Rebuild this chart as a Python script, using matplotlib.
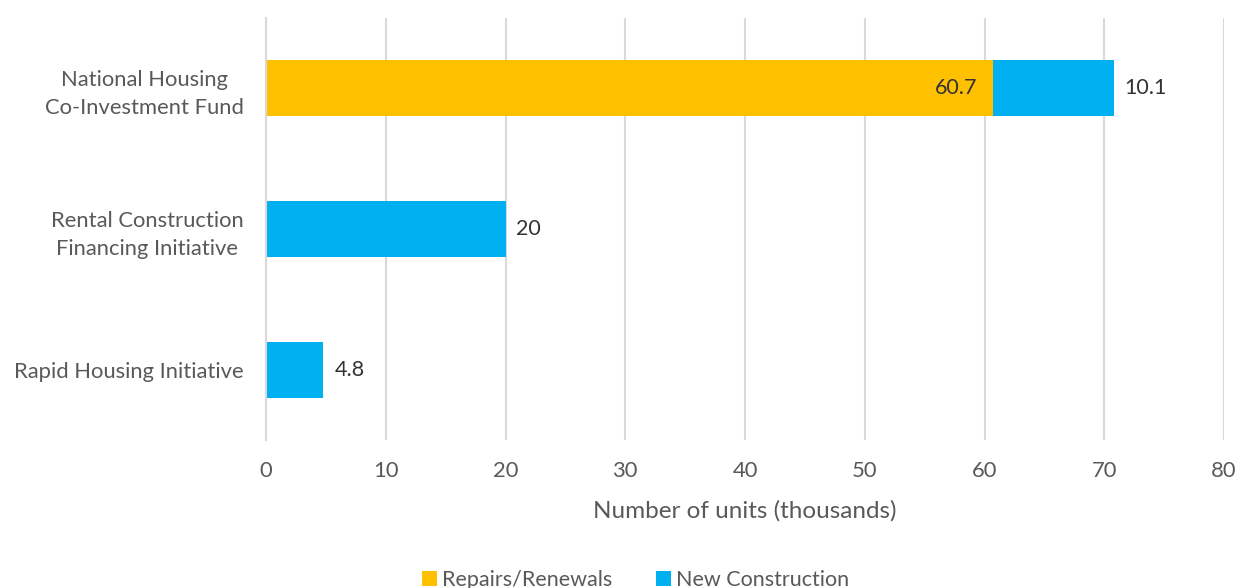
import matplotlib.pyplot as plt
import numpy as np

plt.rcParams.update({
    "font.family": ["Lato", "DejaVu Sans"],
    "text.color": "#595959",
    "axes.labelcolor": "#595959",
    "xtick.color": "#595959",
    "ytick.color": "#595959",
})

programs = ["National Housing\nCo-Investment Fund",
            "Rental Construction\nFinancing Initiative",
            "Rapid Housing Initiative"]
repairs = [60.7, 0, 0]
new_construction = [10.1, 20, 4.8]
x_ticks = [0, 10, 20, 30, 40, 50, 60, 70, 80]

orange = "#FFC000"
blue = "#00B0F0"

fig = plt.figure(figsize=(12.39, 5.88), dpi=100)
ax = fig.add_axes([0.2147, 0.2517, 0.7732, 0.7177])

y = np.arange(len(programs))
b1 = ax.barh(y, repairs, height=0.4, color=orange, label="Repairs/Renewals")
b2 = ax.barh(y, new_construction, left=repairs, height=0.4, color=blue,
             label="New Construction")

# data labels
for i in range(len(programs)):
    if repairs[i] > 0:
        ax.text(repairs[i] - 1.3, y[i], f"{repairs[i]:g}", ha="right",
                va="center", fontsize=15.5, color="#333333")
    ax.text(repairs[i] + new_construction[i] + 0.9, y[i],
            f"{new_construction[i]:g}", ha="left", va="center",
            fontsize=15.5, color="#333333")

ax.set_xlim(0, 80)
ax.set_ylim(2.5, -0.5)
ax.set_xticks(x_ticks)
ax.set_yticks(y)
ax.set_yticklabels(programs)
for lab in ax.get_yticklabels():
    lab.set_multialignment("center")
    lab.set_linespacing(1.5)

ax.grid(axis="x", color="#D9D9D9", linewidth=1.5)
ax.set_axisbelow(True)
for s in ["top", "right", "bottom"]:
    ax.spines[s].set_visible(False)
ax.spines["left"].set_color("#D9D9D9")
ax.spines["left"].set_linewidth(1.5)
ax.tick_params(axis="both", length=0, labelsize=15.8)
ax.tick_params(axis="y", pad=16)
ax.tick_params(axis="x", pad=15)
ax.set_xlabel("Number of units (thousands)", fontsize=17.5, labelpad=14)

fig.legend(handles=[b1, b2], loc="center", bbox_to_anchor=(0.513, 0.014),
           ncol=2, frameon=False, fontsize=15.5, handlelength=0.7,
           handleheight=0.7, columnspacing=2.0, handletextpad=0.25)

fig.savefig("out.png", dpi=100)
